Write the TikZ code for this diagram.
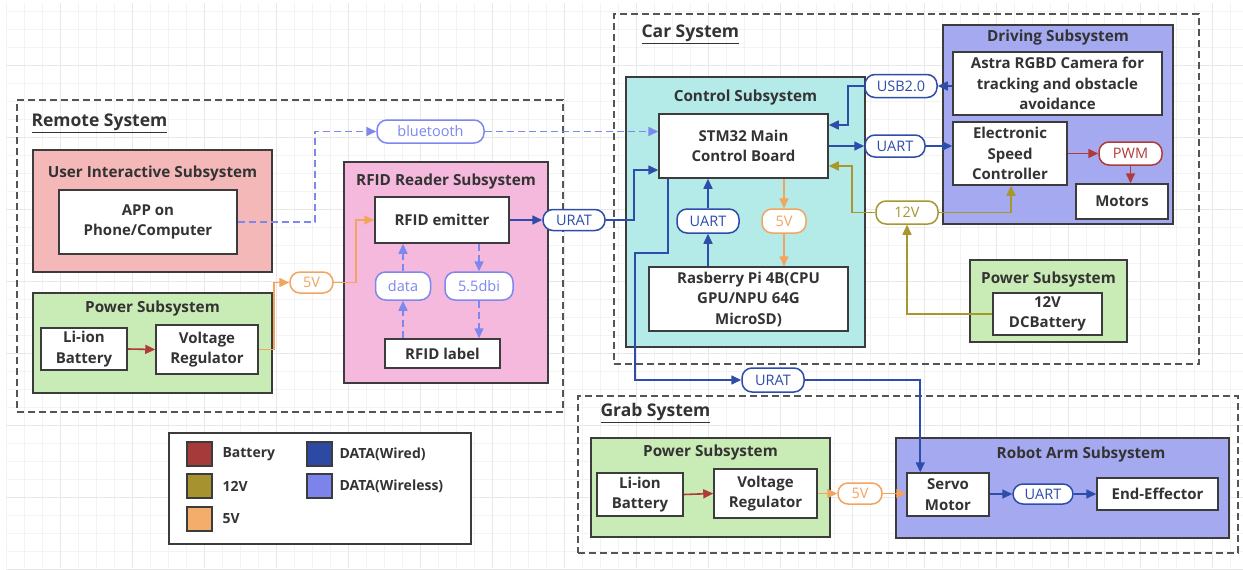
\documentclass[tikz,border=0pt]{standalone}
\usepackage{fontspec}
\setmainfont{Open Sans}
\usetikzlibrary{arrows.meta}
\definecolor{txt}{HTML}{333333}
\definecolor{boxgray}{HTML}{3C3C3C}
\definecolor{sysgray}{HTML}{555555}
\definecolor{uipink}{HTML}{F4B8B8}
\definecolor{pgreen}{HTML}{C9EBB5}
\definecolor{rfidpink}{HTML}{F4B9DC}
\definecolor{ccyan}{HTML}{B4EAE8}
\definecolor{peri}{HTML}{A5AAF0}
\definecolor{wired}{HTML}{2E4DAA}
\definecolor{wless}{HTML}{7D87EE}
\definecolor{orng}{HTML}{F2A55E}
\definecolor{olive}{HTML}{A8962E}
\definecolor{bred}{HTML}{B03A3A}
\definecolor{lbat}{HTML}{A6393A}
\definecolor{l12}{HTML}{A6922E}
\definecolor{l5}{HTML}{F4AD6A}
\definecolor{lwired}{HTML}{2C4AA4}
\definecolor{lwless}{HTML}{7C84EC}
\definecolor{gridminor}{HTML}{F3F3F3}
\definecolor{gridmajor}{HTML}{E8E8E8}
\newcommand{\blkfont}{\fontsize{15}{20.5}\selectfont\bfseries}
\newcommand{\pillfont}{\fontsize{14.5}{16}\selectfont}
\newcommand{\ttlfont}{\fontsize{15.3}{17}\selectfont\bfseries}
\newcommand{\sysfont}{\fontsize{17.5}{20}\selectfont\bfseries}
\newcommand{\legfont}{\fontsize{14}{16}\selectfont\bfseries}
\begin{document}
\begin{tikzpicture}[x=1pt,y=-1pt,
  sz/.style 2 args={minimum width=#1pt, minimum height=#2pt},
  sysbox/.style={draw=sysgray, dash pattern=on 7pt off 4pt, line width=1.5pt, inner sep=0pt},
  subbox/.style={draw=boxgray, line width=1.5pt, inner sep=0pt},
  blk/.style={draw=boxgray, fill=white, line width=1.5pt, align=center, font=\blkfont, text=txt, inner sep=0pt},
  pill/.style={draw=#1, text=#1, fill=white, rounded corners=10pt, line width=1.5pt, font=\pillfont, inner sep=0pt},
  ttl/.style={font=\ttlfont, text=txt},
  systtl/.style={font=\sysfont, text=txt, anchor=west},
  conn/.style={line width=1.6pt, -{Triangle[length=10pt,width=9pt]}},
  wl/.style={conn, draw=wless, dash pattern=on 7pt off 4pt},
  wd/.style={conn, draw=wired},
  ov/.style={conn, draw=orng},
  ol/.style={conn, draw=olive},
  rd/.style={conn, draw=bred},
  swatch/.style={draw=boxgray, line width=1.2pt, sz={25}{24}, inner sep=0pt},
  legtext/.style={font=\legfont, text=txt, anchor=west}
]
\useasboundingbox (0,0) rectangle (1243,570);
\fill[white] (0,0) rectangle (1243,570);
% grid
\foreach \i in {0,...,68} {\draw[gridminor, line width=1pt] ({6+18*\i},3) -- ({6+18*\i},568);}
\foreach \j in {0,...,30} {\draw[gridminor, line width=1pt] (6,{11+18*\j}) -- (1243,{11+18*\j});}
\foreach \i in {0,...,16} {\draw[gridmajor, line width=1pt] ({60+72*\i},3) -- ({60+72*\i},568);}
\foreach \j in {0,...,7} {\draw[gridmajor, line width=1pt] (6,{65+72*\j}) -- (1243,{65+72*\j});}

% system boxes
\node[sysbox, sz={546}{312}] (remote) at (290,256) {};
\node[systtl] (remotet) at (28,123) {\underline{Remote System}};
\node[sysbox, sz={585}{350}] (car) at (906.5,189) {};
\node[systtl] (cart) at (638,34) {\underline{Car System}};
\node[sysbox, sz={660}{157}] (grab) at (908,474.5) {};
\node[systtl] (grabt) at (597,413) {\underline{Grab System}};

% subsystems
\node[subbox, fill=uipink, sz={239}{122}] (ui) at (152.5,211) {};
\node[ttl] (uit) at (152.5,174) {User Interactive Subsystem};
\node[subbox, fill=pgreen, sz={239}{100}] (rpow) at (152.5,343) {};
\node[ttl] (rpowt) at (152.5,309) {Power Subsystem};
\node[subbox, fill=rfidpink, sz={204}{221}] (rfid) at (446,272.5) {};
\node[ttl] (rfidt) at (446,182) {RFID Reader Subsystem};
\node[subbox, fill=ccyan, sz={239}{270}] (ctrl) at (745.5,212) {};
\node[ttl] (ctrlt) at (745.5,98) {Control Subsystem};
\node[subbox, fill=peri, sz={230}{199}] (drive) at (1058,124.5) {};
\node[ttl] (drivet) at (1058,38) {Driving Subsystem};
\node[subbox, fill=pgreen, sz={157}{82}] (cpow) at (1048.5,301) {};
\node[ttl] (cpowt) at (1048.5,280) {Power Subsystem};
\node[subbox, fill=pgreen, sz={239}{99}] (gpow) at (710.5,487.5) {};
\node[ttl] (gpowt) at (710.5,453) {Power Subsystem};
\node[subbox, fill=peri, sz={333}{100}] (arm) at (1062.5,488) {};
\node[ttl] (armt) at (1081,455) {Robot Arm Subsystem};

% blocks
\node[blk, sz={178}{64}] (app) at (148,222) {APP on\\Phone/Computer};
\node[blk, sz={86}{42}] (rbat) at (84,349) {Li-ion\\Battery};
\node[blk, sz={102}{49}] (rreg) at (207,349.5) {Voltage\\Regulator};
\node[blk, sz={134}{46}] (emit) at (442,220) {RFID emitter};
\node[blk, sz={115}{29}] (rlabel) at (442.5,353.5) {RFID label};
\node[blk, sz={169}{64}] (stm) at (743.5,146) {STM32 Main\\Control Board};
\node[blk, sz={199}{64}] (rpi) at (748.5,299) {Rasberry Pi 4B(CPU\\GPU/NPU 64G\\MicroSD)};
\node[blk, sz={209}{63}] (cam) at (1057.5,83.5) {Astra RGBD Camera for\\tracking and obstacle\\avoidance};
\node[blk, sz={114}{63}] (esc) at (1010,153.5) {Electronic\\Speed\\Controller};
\node[blk, sz={92}{35}] (mot) at (1122,201.5) {Motors};
\node[blk, sz={109}{42}] (dcb) at (1047.5,314) {12V\\DCBattery};
\node[blk, sz={86}{43}] (gbat) at (640,494.5) {Li-ion\\Battery};
\node[blk, sz={103}{49}] (greg) at (765.5,493.5) {Voltage\\Regulator};
\node[blk, sz={82}{43}] (servo) at (948,494.5) {Servo\\Motor};
\node[blk, sz={121}{32}] (eff) at (1157.5,494) {End-Effector};

% pills
\node[pill=wless, sz={107}{23}] (bt) at (430.5,131.5) {bluetooth};
\node[pill=orng, sz={43}{21}] (v5a) at (311.5,282.5) {5V};
\node[pill=wless, sz={55}{28}] (data) at (403,286) {data};
\node[pill=wless, sz={68}{28}] (dbi) at (479,286) {5.5dbi};
\node[pill=wired, sz={62}{21}] (urat1) at (574,220) {URAT};
\node[pill=wired, sz={62}{24}] (uart1) at (708,221) {UART};
\node[pill=orng, sz={44}{24}] (v5b) at (784,221) {5V};
\node[pill=wired, sz={72}{23}] (usb) at (901,86) {USB2.0};
\node[pill=wired, sz={60}{22}] (uart2) at (895,146) {UART};
\node[pill=olive, sz={62}{23}] (v12) at (907,212.5) {12V};
\node[pill=bred, sz={63}{23}] (pwm) at (1130.5,153.5) {PWM};
\node[pill=wired, sz={62}{24}] (urat2) at (773,380) {URAT};
\node[pill=orng, sz={44}{21}] (v5c) at (860,493.5) {5V};
\node[pill=wired, sz={60}{20}] (uart3) at (1043,494) {UART};

% connectors: remote
\draw[rd] (rbat.east) -- (rreg.west);
\draw[ov] (rreg.east) -- ++(15,0) |- (v5a.west);
\draw[ov] (v5a.east) -- ++(22,0) |- (emit.west);
\draw[wl] (app.east) -- ++(77,0) |- (bt.west);
\draw[wl] (bt.east) -- (bt.east -| stm.west);
\draw[wl] (rlabel.north -| data) -- (data.south);
\draw[wl] (data.north) -- (data.north |- emit.south);
\draw[wl] (emit.south -| dbi) -- (dbi.north);
\draw[wl] (dbi.south) -- (dbi.south |- rlabel.north);
\draw[wd] (emit.east) -- (urat1.west);
\draw[wd] (urat1.east) -- ++(28,0) |- ([yshift=-24pt]stm.west);
% car
\draw[wd] (rpi.north -| uart1) -- (uart1.south);
\draw[wd] (uart1.north) -- (uart1.north |- stm.south);
\draw[ov] (stm.south -| v5b) -- (v5b.north);
\draw[ov] (v5b.south) -- (v5b.south |- rpi.north);
\draw[wd] (cam.west |- usb.east) -- (usb.east);
\draw[wd] (usb.west) -- ++(-16,0) |- ([yshift=21pt]stm.east);
\draw[wd] (stm.east) -- (uart2.west);
\draw[wd] (uart2.east) -- (uart2.east -| esc.west);
\draw[ol] (v12.west) -- ++(-23,0) |- ([yshift=-20pt]stm.east);
\draw[ol] (v12.east) -| ([xshift=1pt]esc.south);
\draw[ol] (dcb.west) -| (v12.south);
\draw[rd] (esc.east |- pwm.west) -- (pwm.west);
\draw[rd] (pwm.south) -- (pwm.south |- mot.north);
\draw[wd] ([xshift=10pt]stm.south west) -- ++(0,74) -- ++(-33,0) |- (urat2.west);
\draw[wd] (urat2.east) -| ([xshift=14pt]servo.north west);
% grab
\draw[rd] (gbat.east) -- (greg.west);
\draw[ov] (greg.east |- v5c.west) -- (v5c.west);
\draw[ov] (v5c.east) -- (v5c.east -| servo.west);
\draw[wd] (servo.east |- uart3.west) -- (uart3.west);
\draw[wd] (uart3.east) -- (uart3.east -| eff.west);

% legend
\node[subbox, fill=white, sz={302}{111}] (legend) at (320,488.5) {};
\node[swatch, fill=lbat] (sw1) at (199.5,454) {};
\node[legtext] (lt1) at (219,454) {Battery};
\node[swatch, fill=l12] (sw2) at (199.5,486) {};
\node[legtext] (lt2) at (219,486) {12V};
\node[swatch, fill=l5] (sw3) at (199.5,519) {};
\node[legtext] (lt3) at (219,519) {5V};
\node[swatch, fill=lwired] (sw4) at (319.5,454) {};
\node[legtext] (lt4) at (336,454) {DATA(Wired)};
\node[swatch, fill=lwless] (sw5) at (319.5,486) {};
\node[legtext] (lt5) at (336,486) {DATA(Wireless)};
\end{tikzpicture}
\end{document}
